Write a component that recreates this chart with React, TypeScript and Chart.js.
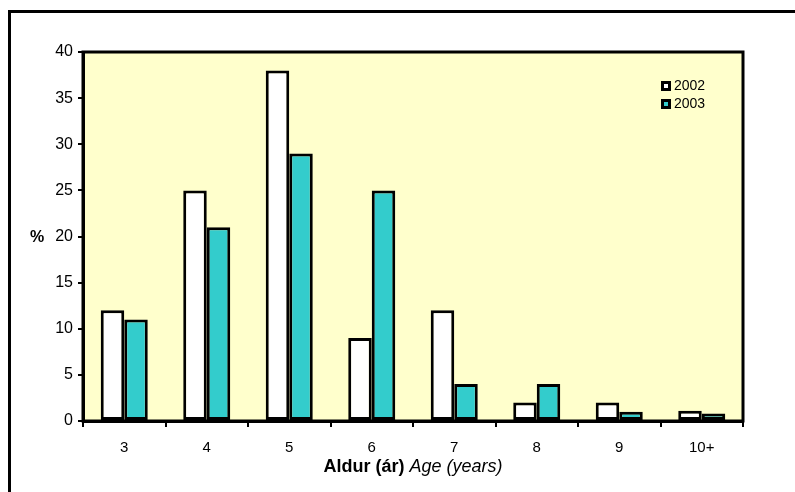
import React, { useEffect, useRef } from "react";
import { Chart, registerables } from "chart.js";

Chart.register(...registerables);

const categories = ["3", "4", "5", "6", "7", "8", "9", "10+"];
const series2002 = [12, 25, 38, 9, 12, 2, 2, 1.1];
const series2003 = [11, 21, 29, 25, 4, 4, 1, 0.8];
const seriesLabels = ["2002", "2003"];
const yTicks = [0, 5, 10, 15, 20, 25, 30, 35, 40];

const FONT = "Arial, 'Liberation Sans', sans-serif";

const decorPlugin = {
  id: "decor",
  beforeDraw(chart: any) {
    const { ctx, chartArea } = chart;
    ctx.save();
    ctx.fillStyle = "#ffffff";
    ctx.fillRect(0, 0, chart.width, chart.height);
    ctx.fillStyle = "#FFFFCC";
    ctx.fillRect(chartArea.left, chartArea.top, chartArea.right - chartArea.left, chartArea.bottom - chartArea.top);
    ctx.strokeStyle = "#000";
    ctx.lineWidth = 3;
    ctx.strokeRect(9.5, 11.5, chart.width + 20, chart.height + 20);
    ctx.restore();
  },
  afterDraw(chart: any) {
    const { ctx, chartArea } = chart;
    ctx.save();
    ctx.strokeStyle = "#000";
    ctx.lineWidth = 3;
    ctx.strokeRect(chartArea.left, chartArea.top, chartArea.right - chartArea.left, chartArea.bottom - chartArea.top);
    ctx.fillStyle = "#000";
    ctx.font = `bold 16px ${FONT}`;
    ctx.textAlign = "left";
    ctx.textBaseline = "middle";
    ctx.fillText("%", 30, (chartArea.top + chartArea.bottom) / 2 + 1);
    const boldPart = "Aldur (ár) ";
    const italPart = "Age (years)";
    ctx.font = `bold 18px ${FONT}`;
    const w1 = ctx.measureText(boldPart).width;
    ctx.font = `italic 18px ${FONT}`;
    const w2 = ctx.measureText(italPart).width;
    const cx = (chartArea.left + chartArea.right) / 2;
    const x0 = cx - (w1 + w2) / 2;
    ctx.font = `bold 18px ${FONT}`;
    ctx.fillText(boldPart, x0, 467);
    ctx.font = `italic 18px ${FONT}`;
    ctx.fillText(italPart, x0 + w1, 467);
    const colors = ["#ffffff", "#33CCCC"];
    const ys = [86, 104];
    ctx.font = `14px ${FONT}`;
    seriesLabels.forEach((lab, i) => {
      const y = ys[i];
      ctx.fillStyle = "#000";
      ctx.fillRect(661, y - 5, 10, 10);
      ctx.fillStyle = colors[i];
      ctx.fillRect(664, y - 2, 4, 4);
      ctx.fillStyle = "#000";
      ctx.fillText(lab, 674, y);
    });
    ctx.restore();
  },
};

export default function App() {
  const ref = useRef<HTMLCanvasElement>(null);
  useEffect(() => {
    if (!ref.current) return;
    const chart = new Chart(ref.current, {
      type: "bar",
      data: {
        labels: categories,
        datasets: [
          {
            label: seriesLabels[0],
            data: series2002,
            backgroundColor: "#ffffff",
            borderColor: "#000",
            borderWidth: 3,
            borderSkipped: false,
            categoryPercentage: 0.57,
            barPercentage: 1,
          },
          {
            label: seriesLabels[1],
            data: series2003,
            backgroundColor: "#33CCCC",
            borderColor: "#000",
            borderWidth: 3,
            borderSkipped: false,
            categoryPercentage: 0.57,
            barPercentage: 1,
          },
        ],
      },
      options: {
        responsive: false,
        animation: false,
        devicePixelRatio: 1,
        layout: { padding: { left: 0, top: 52, right: 52, bottom: 0 } },
        plugins: { legend: { display: false }, tooltip: { enabled: false } },
        scales: {
          x: {
            grid: { drawOnChartArea: false, color: "#000", lineWidth: 2, tickLength: 6, offset: true },
            border: { display: true, color: "#000", width: 3 },
            ticks: { color: "#000", font: { family: FONT, size: 15 }, padding: 12, maxRotation: 0 },
            afterFit(scale: any) {
              scale.height = 492 - 421;
            },
          },
          y: {
            min: 0,
            max: 40,
            afterBuildTicks(scale: any) {
              scale.ticks = yTicks.map((v) => ({ value: v }));
            },
            grid: { drawOnChartArea: false, color: "#000", lineWidth: 2, tickLength: 5 },
            border: { display: true, color: "#000", width: 3 },
            ticks: { color: "#000", font: { family: FONT, size: 16 }, padding: 5 },
            afterFit(scale: any) {
              scale.width = 83;
            },
          },
        },
      },
      plugins: [decorPlugin],
    });
    return () => chart.destroy();
  }, []);
  return (
    <div style={{ position: "absolute", left: 0, top: 0, width: 795, height: 492 }}>
      <canvas ref={ref} width={795} height={492} style={{ width: 795, height: 492, display: "block" }} />
    </div>
  );
}
